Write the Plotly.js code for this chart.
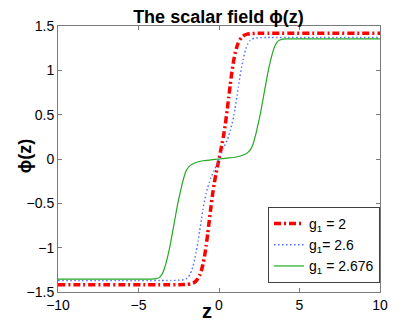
<!DOCTYPE html>
<html>
<head>
<meta charset="utf-8">
<script src="https://cdn.plot.ly/plotly-3.0.1.min.js"></script>
<style>
  html, body { margin: 0; padding: 0; background: #fff; }
  #plot { width: 420px; height: 329px; }
</style>
</head>
<body>
<div id="plot"></div>
<script>
// values
const zRed = [-10, -2.4, -2, -1.75, -1.6, -1.5, -1.4, -1.3, -1.2, -1.1, -1, -0.9, -0.8, -0.7, -0.6, -0.5, -0.4, -0.3, -0.2, -0.1, 0,
  0.1, 0.2, 0.3, 0.4, 0.5, 0.6, 0.7, 0.8, 0.9, 1, 1.1, 1.2, 1.3, 1.4, 1.5, 1.6, 1.75, 2, 2.4, 10];
const phiRed = [-1.418, -1.418, -1.415, -1.408, -1.398, -1.387, -1.37, -1.345, -1.31, -1.26, -1.19, -1.1, -0.98, -0.84, -0.69, -0.54, -0.4, -0.28, -0.18, -0.09, 0,
  0.09, 0.18, 0.28, 0.4, 0.54, 0.69, 0.84, 0.98, 1.1, 1.19, 1.26, 1.31, 1.345, 1.37, 1.387, 1.398, 1.408, 1.415, 1.418, 1.418];

const zBlue = [-10, -3, -2.5, -2.2, -2.05, -1.9, -1.8, -1.7, -1.6, -1.5, -1.4, -1.3, -1.2, -1.1, -1, -0.9, -0.8, -0.7, -0.6, -0.5, -0.25, 0,
  0.25, 0.5, 0.6, 0.7, 0.8, 0.9, 1, 1.1, 1.2, 1.3, 1.4, 1.5, 1.6, 1.7, 1.8, 1.9, 2.05, 2.2, 2.5, 3, 10];
const phiBlue = [-1.37, -1.37, -1.368, -1.362, -1.352, -1.33, -1.3, -1.26, -1.2, -1.12, -1.03, -0.93, -0.81, -0.69, -0.57, -0.47, -0.39, -0.32, -0.26, -0.21, -0.11, 0,
  0.11, 0.21, 0.26, 0.32, 0.39, 0.47, 0.57, 0.69, 0.81, 0.93, 1.03, 1.12, 1.2, 1.26, 1.3, 1.33, 1.352, 1.362, 1.368, 1.37, 1.37];

const zGreen = [-10, -4.2, -3.9, -3.7, -3.6, -3.5, -3.4, -3.3, -3.2, -3.1, -3, -2.9, -2.8, -2.7, -2.6, -2.5, -2.4, -2.3, -2.2, -2.1, -2, -1.8, -1.5, -1, -0.5, 0,
  0.5, 1, 1.5, 1.8, 2, 2.1, 2.2, 2.3, 2.4, 2.5, 2.6, 2.7, 2.8, 2.9, 3, 3.1, 3.2, 3.3, 3.4, 3.5, 3.6, 3.7, 3.9, 4.2, 10];
const phiGreen = [-1.355, -1.355, -1.35, -1.335, -1.315, -1.285, -1.24, -1.18, -1.11, -1.03, -0.94, -0.84, -0.74, -0.64, -0.54, -0.45, -0.37, -0.29, -0.22, -0.16, -0.12, -0.075, -0.045, -0.02, -0.01, 0,
  0.01, 0.02, 0.045, 0.075, 0.12, 0.16, 0.22, 0.29, 0.37, 0.45, 0.54, 0.64, 0.74, 0.84, 0.94, 1.03, 1.11, 1.18, 1.24, 1.285, 1.315, 1.335, 1.35, 1.355, 1.355];

const names = ['g<sub>1</sub> = 2', 'g<sub>1</sub>= 2.6', 'g<sub>1</sub> = 2.676'];
const xTicks = [-10, -5, 0, 5, 10];
const yTicks = [-1.5, -1, -0.5, 0, 0.5, 1, 1.5];

const font = 'Liberation Sans, Arial, Helvetica, sans-serif';
const axisColor = '#7a7a7a';
const minus = v => v < 0 ? '\u2212' + Math.abs(v) : String(v);

const traces = [
  {
    x: zRed, y: phiRed, name: names[0],
    mode: 'lines', type: 'scatter',
    line: { color: '#ff0000', width: 3.5, dash: '7px,3px,2px,3px', shape: 'spline', smoothing: 0.3 },
  },
  {
    x: zBlue, y: phiBlue, name: names[1],
    mode: 'lines', type: 'scatter',
    line: { color: '#4d6bff', width: 1.4, dash: '1.5px,2.5px', shape: 'spline', smoothing: 0.3 },
  },
  {
    x: zGreen, y: phiGreen, name: names[2],
    mode: 'lines', type: 'scatter',
    line: { color: '#22aa22', width: 1.2, shape: 'spline', smoothing: 0.3 },
  },
];

const layout = {
  width: 420,
  height: 329,
  margin: { l: 58, r: 40, t: 26, b: 37 },
  paper_bgcolor: '#ffffff',
  plot_bgcolor: '#ffffff',
  font: { family: font, size: 14, color: '#000000' },
  title: {
    text: '<b>The scalar field ϕ(z)</b>',
    font: { family: font, size: 18, color: '#000000' },
    x: 0.52, xanchor: 'center', y: 0.948, yanchor: 'middle',
  },
  xaxis: {
    range: [-10, 10],
    tickmode: 'array', tickvals: xTicks, ticktext: xTicks.map(minus),
    showgrid: false, zeroline: false,
    showline: true, linecolor: axisColor, linewidth: 1, mirror: 'ticks',
    ticks: 'inside', ticklen: 4, tickcolor: axisColor,
  },
  yaxis: {
    range: [-1.5, 1.5],
    tickmode: 'array', tickvals: yTicks, ticktext: yTicks.map(minus),
    showgrid: false, zeroline: false,
    showline: true, linecolor: axisColor, linewidth: 1, mirror: 'ticks',
    ticks: 'inside', ticklen: 4, tickcolor: axisColor,
  },
  annotations: [
    {
      text: '<b>z</b>', xref: 'paper', yref: 'paper', x: 0.464, y: -0.07,
      xanchor: 'center', yanchor: 'middle', showarrow: false,
      font: { family: font, size: 20, color: '#000000' },
    },
    {
      text: '<b>ϕ(z)</b>', xref: 'paper', yref: 'paper', x: -0.1, y: 0.51,
      xanchor: 'center', yanchor: 'middle', showarrow: false, textangle: -90,
      font: { family: font, size: 18, color: '#000000' },
    },
  ],
  showlegend: true,
  legend: {
    x: 1.0, y: 0.034, xanchor: 'right', yanchor: 'bottom',
    bgcolor: '#ffffff', bordercolor: '#404040', borderwidth: 1,
    font: { family: font, size: 14, color: '#000000' },
    traceorder: 'normal',
  },
};

Plotly.newPlot('plot', traces, layout, { staticPlot: true, displayModeBar: false });
</script>
</body>
</html>
